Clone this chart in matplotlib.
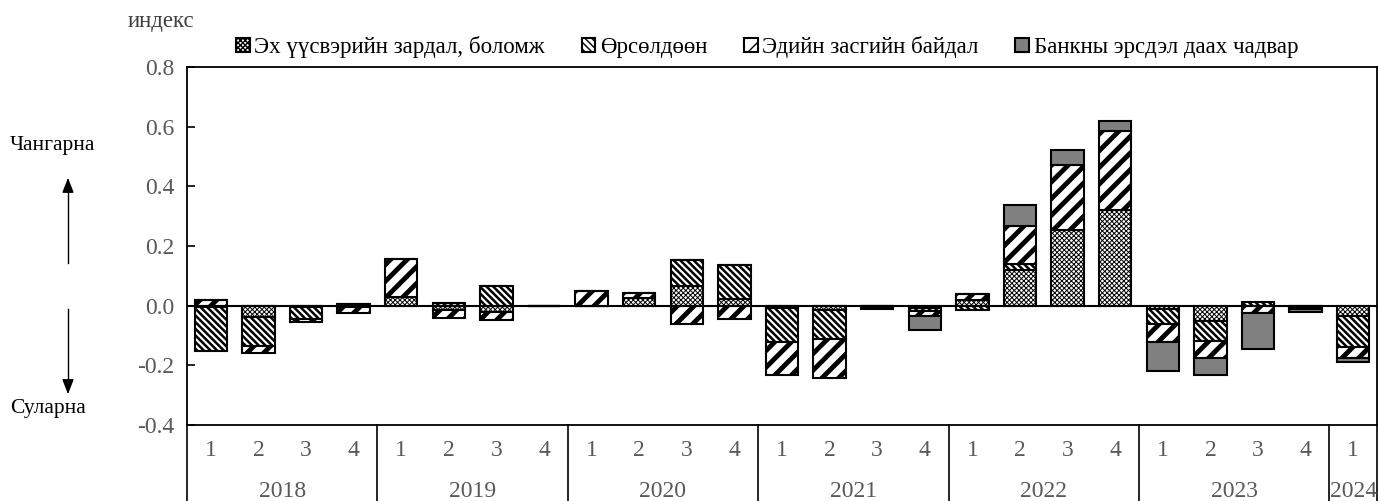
import numpy as np
import matplotlib
matplotlib.use('Agg')
import matplotlib.pyplot as plt
from matplotlib.patches import Patch

plt.rcParams['font.family'] = ['Liberation Serif', 'DejaVu Serif']

quarters = ['1', '2', '3', '4'] * 6 + ['1']
years = ['2018', '2019', '2020', '2021', '2022', '2023', '2024']

source = [-0.005, -0.037, -0.005, 0.004, 0.030, -0.015, -0.020, 0.0,
          0.0, 0.025, 0.067, 0.021, -0.009, -0.015, 0.0, -0.008,
          0.020, 0.121, 0.255, 0.319, -0.011, -0.050, 0.0, 0.0, -0.034]
competition = [-0.147, -0.098, -0.040, -0.005, 0.0, 0.008, 0.066, 0.0,
               0.0, 0.0, 0.087, 0.114, -0.114, -0.097, -0.006, -0.010,
               -0.013, 0.020, 0.0, 0.0, -0.050, -0.070, 0.011, -0.006, -0.104]
economy = [0.019, -0.022, -0.010, -0.020, 0.126, -0.027, -0.028, 0.0,
           0.049, 0.018, -0.060, -0.045, -0.110, -0.130, 0.0, -0.018,
           0.018, 0.125, 0.215, 0.266, -0.061, -0.056, -0.026, -0.006, -0.039]
bank = [0.0, 0.0, 0.0, 0.0, 0.0, 0.0, 0.0, 0.0,
        0.0, 0.0, 0.0, 0.0, 0.0, 0.0, -0.006, -0.045,
        0.0, 0.072, 0.053, 0.034, -0.096, -0.055, -0.120, -0.010, -0.011]

names = ['Эх үүсвэрийн зардал, боломж', 'Өрсөлдөөн', 'Эдийн засгийн байдал',
         'Банкны эрсдэл даах чадвар']
series = [source, competition, economy, bank]
styles = [dict(facecolor='white', hatch='xxxxxxx', hlw=0.7),
          dict(facecolor='white', hatch='\\' * 5, hlw=1.8),
          dict(facecolor='white', hatch='//', hlw=3.5),
          dict(facecolor='#808080', hatch=None, hlw=1.0)]

fig = plt.figure(figsize=(13.78, 5.01), dpi=100)
ax = fig.add_axes([187 / 1378, 1 - 425 / 501, 1190 / 1378, 358 / 501])

x = np.arange(len(quarters))
pos = np.zeros(len(x))
neg = np.zeros(len(x))
for vals, st in zip(series, styles):
    v = np.array(vals)
    bottom = np.where(v >= 0, pos, neg)
    bars = ax.bar(x, v, 0.68, bottom=bottom, facecolor=st['facecolor'],
                  edgecolor='black', linewidth=1.5, hatch=st['hatch'], zorder=2)
    for b in bars:
        if hasattr(b, 'set_hatch_linewidth'):
            b.set_hatch_linewidth(st['hlw'])
    pos = pos + np.where(v >= 0, v, 0)
    neg = neg + np.where(v < 0, v, 0)

ax.axhline(0, color='black', linewidth=1.5, zorder=3)
ax.set_xlim(-0.5, len(x) - 0.5)
ax.set_ylim(-0.4, 0.8)
ax.set_yticks(np.arange(-0.4, 0.81, 0.2))
ax.set_yticklabels(['%.1f' % t for t in np.arange(-0.4, 0.81, 0.2)])
ax.tick_params(axis='y', direction='in', length=6, width=1.2, labelsize=17,
               labelcolor='#595959', pad=9)
ax.set_xticks(x)
ax.set_xticklabels(quarters)
ax.tick_params(axis='x', length=0, labelsize=17, labelcolor='#595959', pad=11)
for s in ax.spines.values():
    s.set_linewidth(1.3)

# year separators and labels below the axis
for b in [-0.5, 3.5, 7.5, 11.5, 15.5, 19.5, 23.5, 24.5]:
    ax.plot([b, b], [0, -0.215], transform=ax.get_xaxis_transform(),
            color='black', linewidth=1.2, clip_on=False)
for i, yr in enumerate(years):
    c = 1.5 + 4 * i if i < 6 else 24
    ax.text(c, -0.185, yr, transform=ax.get_xaxis_transform(), ha='center',
            va='center', fontsize=17, color='#595959')

handles = []
for st in styles:
    p = Patch(facecolor=st['facecolor'], edgecolor='black', hatch=st['hatch'],
              linewidth=1.5)
    handles.append(p)
fig.legend(handles, names, loc='center left', bbox_to_anchor=(236 / 1378, 1 - 47 / 501),
           ncol=4, frameon=False, fontsize=16.5, handlelength=0.6, handleheight=0.6,
           handletextpad=0.2, columnspacing=1.6, borderaxespad=0, borderpad=0)

fig.text(128 / 1378, 1 - 22 / 501, 'индекс', fontsize=16.5, color='#404040',
         ha='left', va='center')
fig.text(52 / 1378, 1 - 146 / 501, 'Чангарна', fontsize=15.5, ha='center', va='center')
fig.text(48 / 1378, 1 - 408 / 501, 'Суларна', fontsize=15.5, ha='center', va='center')
fig.add_artist(plt.Line2D([68 / 1378, 68 / 1378], [1 - 263 / 501, 1 - 190 / 501],
                          color='black', linewidth=1))
fig.add_artist(plt.Line2D([68 / 1378, 68 / 1378], [1 - 309 / 501, 1 - 382 / 501],
                          color='black', linewidth=1))
ax.annotate('', xy=(68 / 1378, 1 - 175 / 501), xytext=(68 / 1378, 1 - 195 / 501),
            xycoords='figure fraction', arrowprops=dict(arrowstyle='-|>,head_width=0.35,head_length=0.9',
                                                        color='black', lw=1))
ax.annotate('', xy=(68 / 1378, 1 - 397 / 501), xytext=(68 / 1378, 1 - 377 / 501),
            xycoords='figure fraction', arrowprops=dict(arrowstyle='-|>,head_width=0.35,head_length=0.9',
                                                        color='black', lw=1))

fig.savefig('out.png', dpi=100)
